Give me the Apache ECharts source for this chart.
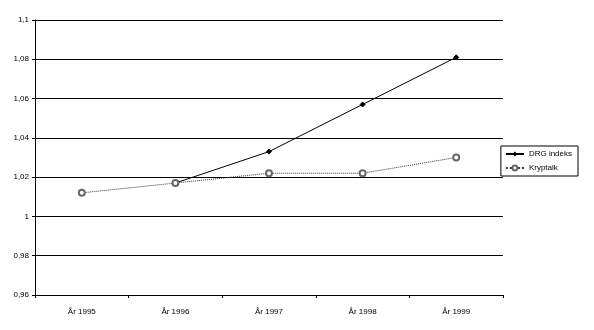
<!DOCTYPE html>
<html><head><meta charset="utf-8">
<script src="https://cdn.jsdelivr.net/npm/echarts@6/dist/echarts.min.js"></script>
<style>html,body{margin:0;padding:0;background:#fff}#c{width:594px;height:330px}</style>
</head><body><div id="c"></div>
<script>
const categories = ['År 1995', 'År 1996', 'År 1997', 'År 1998', 'År 1999'];
const drgIndeks = [null, 1.017, 1.033, 1.057, 1.081];
const kryptalk = [1.012, 1.017, 1.022, 1.022, 1.030];
const yTicks = [0.96, 0.98, 1, 1.02, 1.04, 1.06, 1.08, 1.1];

const chart = echarts.init(document.getElementById('c'));
chart.setOption({
  animation: false,
  backgroundColor: '#fff',
  textStyle: { fontFamily: 'Liberation Sans, Arial, sans-serif', color: '#000' },
  grid: { left: 35, right: 91, top: 20, bottom: 35 },
  legend: {
    orient: 'vertical', right: 16, top: 146,
    borderColor: '#000', borderWidth: 1, padding: [4, 6, 4, 4],
    itemWidth: 18, itemHeight: 6, itemGap: 6,
    textStyle: { fontSize: 8, color: '#000' },
    data: ['DRG indeks', 'Kryptalk']
  },
  xAxis: {
    type: 'category', data: categories, boundaryGap: true,
    axisLine: { lineStyle: { color: '#000', width: 1 } },
    axisTick: { show: true, lineStyle: { color: '#000' }, length: 3 },
    axisLabel: { fontSize: 8, color: '#000', margin: 13 }
  },
  yAxis: {
    type: 'value', min: 0.96, max: 1.1, interval: 0.02,
    axisLine: { show: true, lineStyle: { color: '#000', width: 1 } },
    axisTick: { show: true, lineStyle: { color: '#000' }, length: 3 },
    axisLabel: { fontSize: 8, color: '#000', margin: 6,
      formatter: v => { const t = yTicks.find(x => Math.abs(x - v) < 1e-6); return String(+(t ?? v).toFixed(2)).replace('.', ','); } },
    splitLine: { show: true, lineStyle: { color: '#000', width: 1 } }
  },
  series: [
    { name: 'DRG indeks', type: 'line', data: drgIndeks, connectNulls: false,
      symbol: 'diamond', symbolSize: 5, showSymbol: true,
      lineStyle: { color: '#000', width: 1 },
      itemStyle: { color: '#000', borderColor: '#000' } },
    { name: 'Kryptalk', type: 'line', data: kryptalk,
      symbol: 'emptyCircle', symbolSize: 6, showSymbol: true,
      lineStyle: { color: '#333', width: 1, type: 'dotted' },
      itemStyle: { color: '#666', borderColor: '#666', borderWidth: 1 } }
  ]
});
</script></body></html>
